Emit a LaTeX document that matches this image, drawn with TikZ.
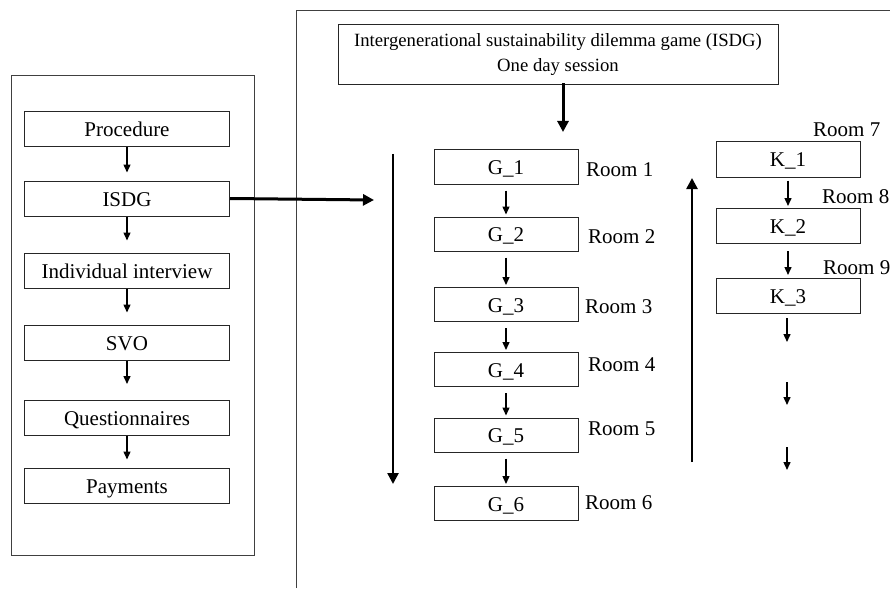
\documentclass[tikz,border=0pt]{standalone}
\usepackage{fontspec}
\setmainfont{Liberation Serif}
\usetikzlibrary{arrows.meta}
\tikzset{
  stage/.style={draw=black!85, line width=1pt, minimum width=205pt, minimum height=35pt, inner sep=0pt,
                text height=16pt, text depth=1pt, font=\fontsize{21}{25}\selectfont},
  group/.style={draw=black!85, line width=1pt, minimum width=144pt, minimum height=34pt, inner sep=0pt,
                text height=16pt, text depth=1pt, font=\fontsize{21}{25}\selectfont},
  room/.style={anchor=west, inner sep=0pt, font=\fontsize{21}{25}\selectfont},
  step arrow/.style={line width=1.4pt, -{Triangle[length=8pt, width=7pt]}},
  big arrow/.style={line width=3pt, -{Triangle[length=11pt, width=11pt]}},
  frame/.style={draw=black!75, line width=1pt}
}
\begin{document}
\begin{tikzpicture}[x=1pt, y=-1pt]
  \useasboundingbox (0,0) rectangle (890,588);
  \draw[frame] (11,76) rectangle (254,555);
  \draw[frame] (296,588) -- (296,11) -- (890,11);

  \node[stage] (proc) at (127,129.5) {Procedure};
  \node[stage] (isdg) at (127,198.5) {ISDG};
  \node[stage] (inter) at (127,270.5) {Individual interview};
  \node[stage] (svo) at (127,342.5) {SVO};
  \node[stage] (quest) at (127,418) {Questionnaires};
  \node[stage] (pay) at (127,485.5) {Payments};
  \draw[step arrow, shorten >=8pt] (proc) -- (isdg);
  \draw[step arrow, shorten >=12pt] (isdg) -- (inter);
  \draw[step arrow, shorten >=12pt] (inter) -- (svo);
  \draw[step arrow, shorten >=16pt] (svo) -- (quest);
  \draw[step arrow, shorten >=8pt] (quest) -- (pay);

  \node[draw=black!85, line width=1pt, minimum width=440pt, minimum height=60pt, align=center,
        font=\fontsize{18.7}{25}\selectfont] (title) at (558,55)
        {Intergenerational sustainability dilemma game (ISDG)\\One day session};
  \coordinate (gtop) at (563,132);
  \draw[big arrow] ([yshift=2pt]title.south -| gtop) -- (gtop);
  \coordinate (rin) at (374,200);
  \draw[big arrow] (isdg.east) -- (rin);

  \node[group] (g1) at (506,167) {G\_1};
  \node[group] (g2) at (506,234) {G\_2};
  \node[group] (g3) at (506,304.5) {G\_3};
  \node[group] (g4) at (506,369.5) {G\_4};
  \node[group] (g5) at (506,435) {G\_5};
  \node[group] (g6) at (506,503.5) {G\_6};
  \foreach \a/\b in {g1/g2, g2/g3, g3/g4, g4/g5, g5/g6}
    \draw[step arrow, shorten <=6pt, shorten >=2pt] (\a) -- (\b);
  \node[room] (r1) at (586,170) {Room 1};
  \node[room] (r2) at (588,237) {Room 2};
  \node[room] (r3) at (585,307) {Room 3};
  \node[room] (r4) at (588,365) {Room 4};
  \node[room] (r5) at (588,429) {Room 5};
  \node[room] (r6) at (585,503) {Room 6};

  \node[group, minimum height=35pt] (k1) at (788,159.5) {K\_1};
  \node[group, minimum height=35pt] (k2) at (788,226) {K\_2};
  \node[group, minimum height=35pt] (k3) at (788,296) {K\_3};
  \draw[step arrow, shorten <=3pt, shorten >=2pt] (k1) -- (k2);
  \draw[step arrow, shorten <=7pt, shorten >=3pt] (k2) -- (k3);
  \node[room] (r7) at (813,130) {Room 7};
  \node[room] (r8) at (822,197) {Room 8};
  \node[room] (r9) at (823,268) {Room 9};
  \coordinate (k4) at (787,342);
  \coordinate (k5a) at (787,382);
  \coordinate (k5) at (787,405);
  \coordinate (k6a) at (787,447);
  \coordinate (k6) at (787,470);
  \draw[step arrow, shorten <=4pt] (k3.south -| k4) -- (k4);
  \draw[step arrow] (k5a) -- (k5);
  \draw[step arrow] (k6a) -- (k6);

  \coordinate (down0) at (393,154);
  \coordinate (down1) at (393,484);
  \draw[big arrow, line width=2.5pt] (down0) -- (down1);
  \coordinate (up0) at (692,462);
  \coordinate (up1) at (692,178);
  \draw[big arrow, line width=2.5pt] (up0) -- (up1);
\end{tikzpicture}
\end{document}
